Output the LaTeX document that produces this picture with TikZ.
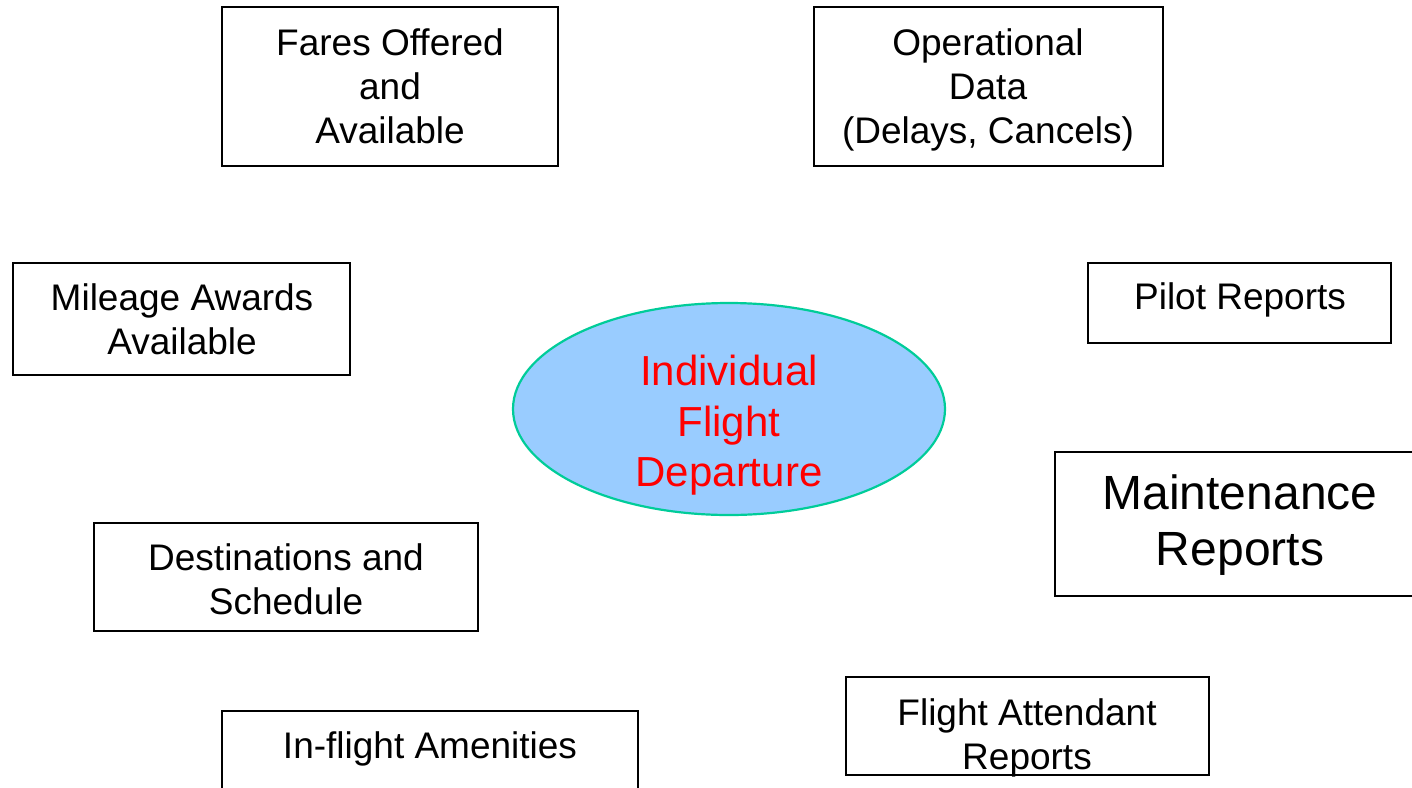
\documentclass[tikz,border=0pt]{standalone}
\usepackage{fontspec}
\setmainfont{Liberation Sans}
\usetikzlibrary{shapes.geometric}

\definecolor{ovalfill}{HTML}{99CCFF}
\definecolor{ovalline}{HTML}{00CC99}
\definecolor{ovaltext}{HTML}{FF0000}

\tikzset{
  frame/.style={draw=black, line width=2.2pt, fill=white, rectangle, inner sep=0pt},
  txt/.style={align=center, inner sep=0pt, font=\fontsize{37}{44}\selectfont},
  bigtxt/.style={align=center, inner sep=0pt, font=\fontsize{48}{56}\selectfont},
  oval/.style={ellipse, draw=ovalline, fill=ovalfill, line width=2.2pt, inner sep=0pt},
  ovaltxt/.style={align=center, inner sep=0pt, text=ovaltext, font=\fontsize{42}{50.5}\selectfont}
}

\begin{document}
\begin{tikzpicture}[x=1pt, y=-1pt]
  \clip (0,0) rectangle (1412,787);
  \fill[white] (0,0) rectangle (1412,787);

  % boxes around the central departure
  \node[frame, minimum width=336pt, minimum height=159pt] (fares) at (390,86.5) {};
  \node[txt] (faresT) at (390,86) {Fares Offered\\and\\Available};

  \node[frame, minimum width=349pt, minimum height=159pt] (ops) at (988.5,86.5) {};
  \node[txt] (opsT) at (988,89.5) {Operational\\Data\\(Delays, Cancels)};

  \node[frame, minimum width=337pt, minimum height=112pt] (miles) at (181.5,319) {};
  \node[txt] (milesT) at (182,319) {Mileage Awards\\Available};

  \node[frame, minimum width=303pt, minimum height=80pt] (pilot) at (1239.5,303) {};
  \node[txt] (pilotT) at (1240,300) {Pilot Reports};

  \node[frame, minimum width=365pt, minimum height=144pt] (maint) at (1237.5,524) {};
  \node[bigtxt] (maintT) at (1240,525) {Maintenance\\Reports};

  \node[frame, minimum width=384pt, minimum height=108pt] (dest) at (286,577) {};
  \node[txt] (destT) at (286,579) {Destinations and\\Schedule};

  \node[frame, minimum width=416pt, minimum height=110pt] (amen) at (430,766) {};
  \node[txt] (amenT) at (430,748.5) {In-flight Amenities};

  \node[frame, minimum width=363pt, minimum height=98pt] (fa) at (1027.5,726) {};
  \node[txt] (faT) at (1027,738) {Flight Attendant\\Reports};

  % central ellipse
  \node[oval, minimum width=432pt, minimum height=212pt] (dep) at (729,409) {};
  \node[ovaltxt] (depT) at (729,425.5) {Individual\\Flight\\Departure};
\end{tikzpicture}
\end{document}
